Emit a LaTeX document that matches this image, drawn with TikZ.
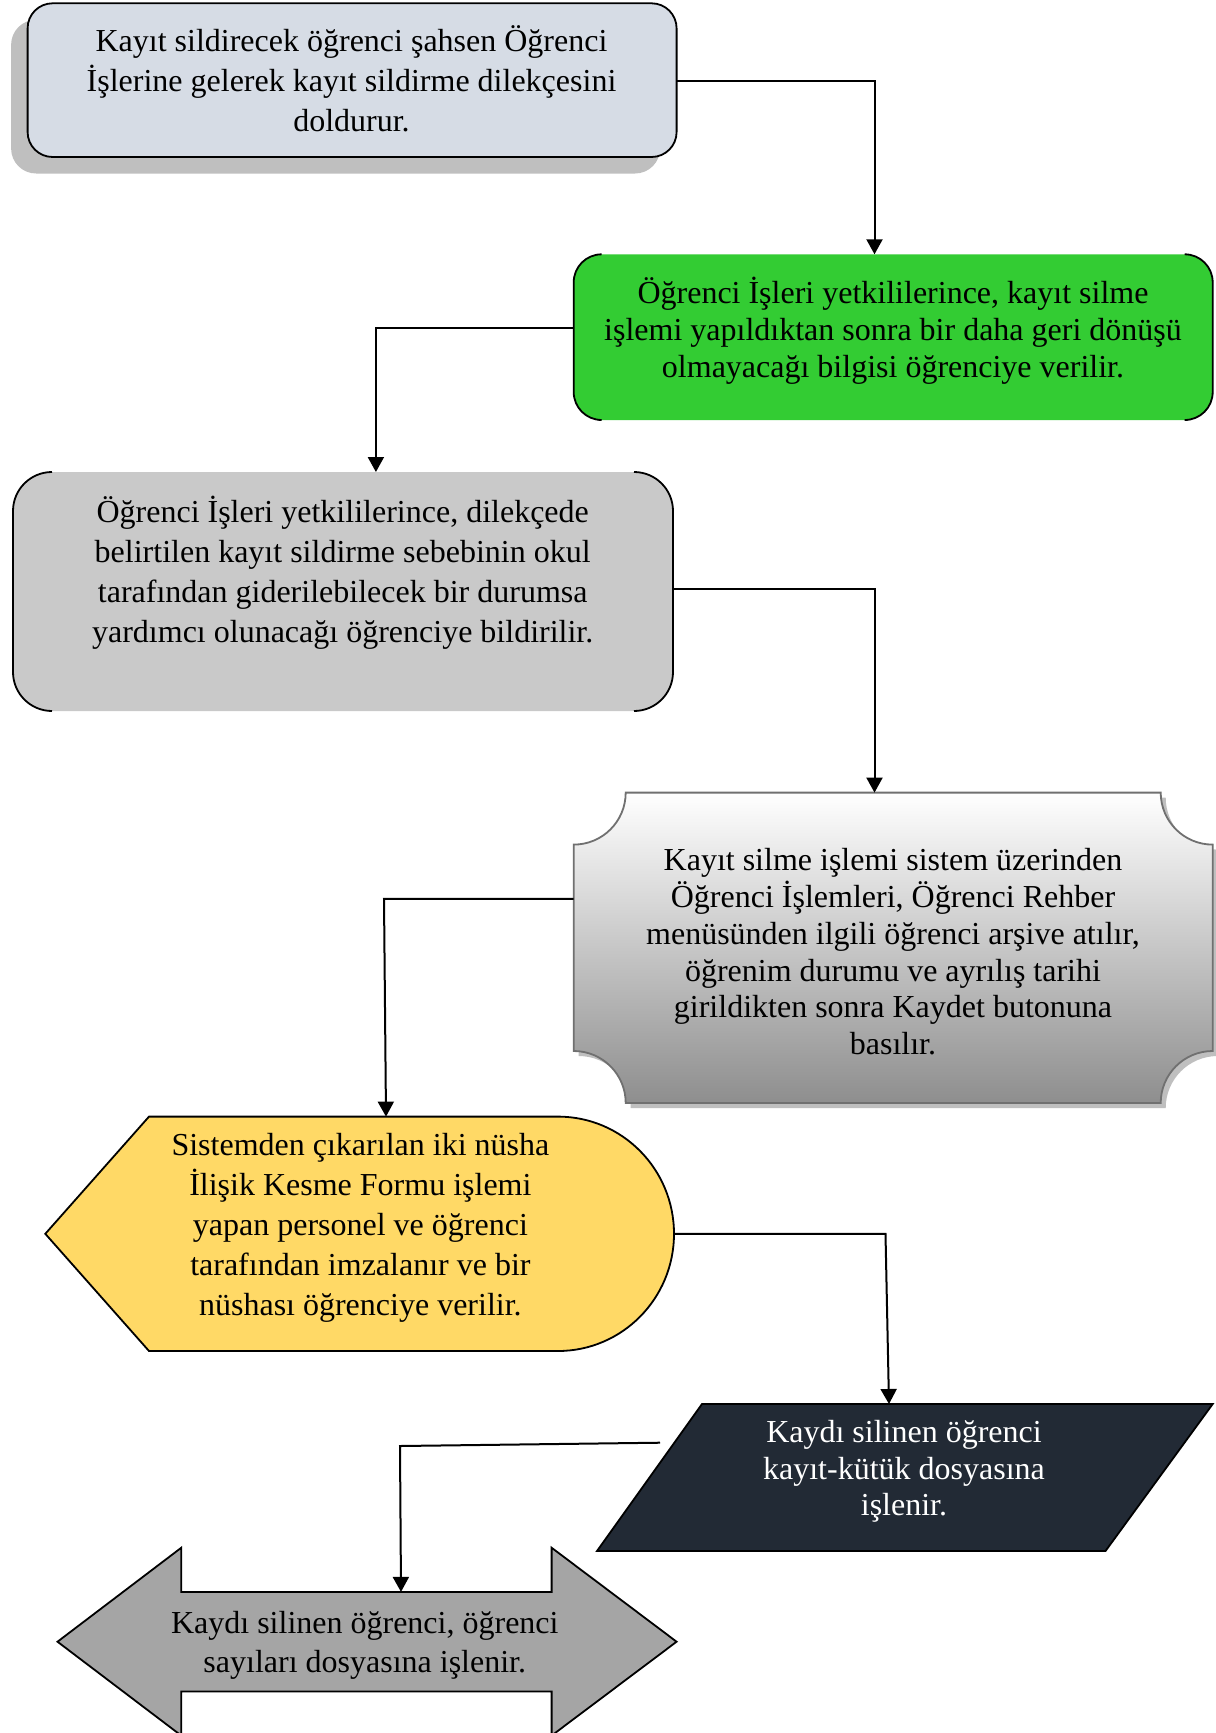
\documentclass[tikz,border=0pt]{standalone}
\usepackage{fontspec}
\setmainfont{Liberation Serif}
\usetikzlibrary{arrows.meta}
\definecolor{bluegray}{HTML}{D6DCE5}
\definecolor{boxgreen}{HTML}{33CC33}
\definecolor{boxgray}{HTML}{C9C9C9}
\definecolor{shadowgray}{HTML}{BFBFBF}
\definecolor{plaquebot}{HTML}{8E8E8E}
\definecolor{plaqueedge}{HTML}{707070}
\definecolor{gold}{HTML}{FFD966}
\definecolor{navy}{HTML}{222A35}
\definecolor{arrowgray}{HTML}{A5A5A5}
\begin{document}
\begin{tikzpicture}[x=1pt,y=1pt,
  txt/.style={align=center,inner sep=0pt,font=\fontsize{32}{40}\selectfont},
  conn/.style={line width=2pt,-{Triangle[length=15pt,width=16pt]}},
  edge/.style={line width=1.8pt,draw=black}]
\useasboundingbox (0,0) rectangle (1216,-1733);
\fill[white] (0,0) rectangle (1216,-1733);

% Box 1 with shadow
\fill[shadowgray, rounded corners=25] (11.1,-19.8) rectangle (660.1,-173.5);
\draw[edge, fill=bluegray, rounded corners=25] (27.6,-3.3) rectangle (676.6,-157);

% Box 2 (double bracket)
\fill[boxgreen, rounded corners=28] (573.7,-254.3) rectangle (1212.7,-420);
\draw[edge] (601.7,-254.3) arc[start angle=90,end angle=180,radius=28] -- (573.7,-392) arc[start angle=180,end angle=270,radius=28];
\draw[edge] (1184.7,-254.3) arc[start angle=90,end angle=0,radius=28] -- (1212.7,-392) arc[start angle=0,end angle=-90,radius=28];

% Box 3 (double bracket)
\fill[boxgray, rounded corners=39] (13,-472) rectangle (673,-711);
\draw[edge] (52,-472) arc[start angle=90,end angle=180,radius=39] -- (13,-672) arc[start angle=180,end angle=270,radius=39];
\draw[edge] (634,-472) arc[start angle=90,end angle=0,radius=39] -- (673,-672) arc[start angle=0,end angle=-90,radius=39];

% Box 4 (plaque) shadow and body
\begin{scope}[shift={(5,-5)}]
\fill[shadowgray] (573.7,-844.6) arc[start angle=-90,end angle=0,radius=52] -- (1160.7,-792.6) arc[start angle=180,end angle=270,radius=52] -- (1212.7,-1051) arc[start angle=90,end angle=180,radius=52] -- (625.7,-1103) arc[start angle=0,end angle=90,radius=52] -- cycle;
\end{scope}
\draw[line width=1.8pt, draw=plaqueedge, top color=white, bottom color=plaquebot] (573.7,-844.6) arc[start angle=-90,end angle=0,radius=52] -- (1160.7,-792.6) arc[start angle=180,end angle=270,radius=52] -- (1212.7,-1051) arc[start angle=90,end angle=180,radius=52] -- (625.7,-1103) arc[start angle=0,end angle=90,radius=52] -- cycle;

% Box 5 (display)
\draw[edge, fill=gold] (45.3,-1233.8) -- (149,-1116.6) -- (558,-1116.6) arc[start angle=90,end angle=-90,x radius=116,y radius=117.2] -- (149,-1351) -- cycle;

% Box 6 (parallelogram)
\draw[edge, fill=navy] (702,-1404) -- (1212.7,-1404) -- (1105.5,-1551) -- (597,-1551) -- cycle;

% Box 7 (double arrow)
\draw[edge, fill=arrowgray] (57.5,-1641.7) -- (181.3,-1547.7) -- (181.3,-1591.9) -- (551.6,-1591.9) -- (551.6,-1547.7) -- (676.6,-1641.7) -- (551.6,-1735.6) -- (551.6,-1691.4) -- (181.3,-1691.4) -- (181.3,-1735.6) -- cycle;

% Texts
\node[txt] (t1) at (351.5,-78.7) {Kayıt sildirecek öğrenci şahsen Öğrenci\\İşlerine gelerek kayıt sildirme dilekçesini\\doldurur.};
\node[txt, font=\fontsize{32}{37}\selectfont] (t2) at (893,-331) {Öğrenci İşleri yetkililerince, kayıt silme\\işlemi yapıldıktan sonra bir daha geri dönüşü\\olmayacağı bilgisi öğrenciye verilir.};
\node[txt] (t3) at (342.7,-573) {Öğrenci İşleri yetkililerince, dilekçede\\belirtilen kayıt sildirme sebebinin okul\\tarafından giderilebilecek bir durumsa\\yardımcı olunacağı öğrenciye bildirilir.};
\node[txt, font=\fontsize{32}{36.7}\selectfont] (t4) at (893,-951.8) {Kayıt silme işlemi sistem üzerinden\\Öğrenci İşlemleri, Öğrenci Rehber\\menüsünden ilgili öğrenci arşive atılır,\\öğrenim durumu ve ayrılış tarihi\\girildikten sonra Kaydet butonuna\\basılır.};
\node[txt] (t5) at (360.4,-1228) {Sistemden çıkarılan iki nüsha\\İlişik Kesme Formu işlemi\\yapan personel ve öğrenci\\tarafından imzalanır ve bir\\nüshası öğrenciye verilir.};
\node[txt, text=white, font=\fontsize{32}{36.5}\selectfont] (t6) at (904,-1471.5) {Kaydı silinen öğrenci\\kayıt-kütük dosyasına\\işlenir.};
\node[txt, font=\fontsize{32}{38.7}\selectfont] (t7) at (364.8,-1645.5) {Kaydı silinen öğrenci, öğrenci\\sayıları dosyasına işlenir.};

% Connector coordinates
\coordinate (b1r) at (676.6,-80.7);
\coordinate (k1) at (874.5,-80.7);
\coordinate (b2t) at (874.5,-254.3);
\coordinate (b2l) at (573.7,-328.3);
\coordinate (k2) at (375.9,-328.3);
\coordinate (b3t) at (375.9,-472);
\coordinate (b3r) at (673,-589);
\coordinate (k3) at (874.5,-589);
\coordinate (b4t) at (874.5,-792.6);
\coordinate (b4l) at (573.7,-898.8);
\coordinate (k4) at (384,-898.8);
\coordinate (b5t) at (386,-1116.6);
\coordinate (b5r) at (674,-1233.8);
\coordinate (k5) at (885.5,-1233.8);
\coordinate (b6t) at (889,-1404);
\coordinate (b6l) at (660,-1442.7);
\coordinate (k6) at (400,-1446);
\coordinate (b7t) at (401,-1591.9);

\draw[conn] (b1r) -- (k1) -- (b2t);
\draw[conn] (b2l) -- (k2) -- (b3t);
\draw[conn] (b3r) -- (k3) -- (b4t);
\draw[conn] (b4l) -- (k4) -- (b5t);
\draw[conn] (b5r) -- (k5) -- (b6t);
\draw[conn] (b6l) -- (k6) -- (b7t);
\end{tikzpicture}
\end{document}
